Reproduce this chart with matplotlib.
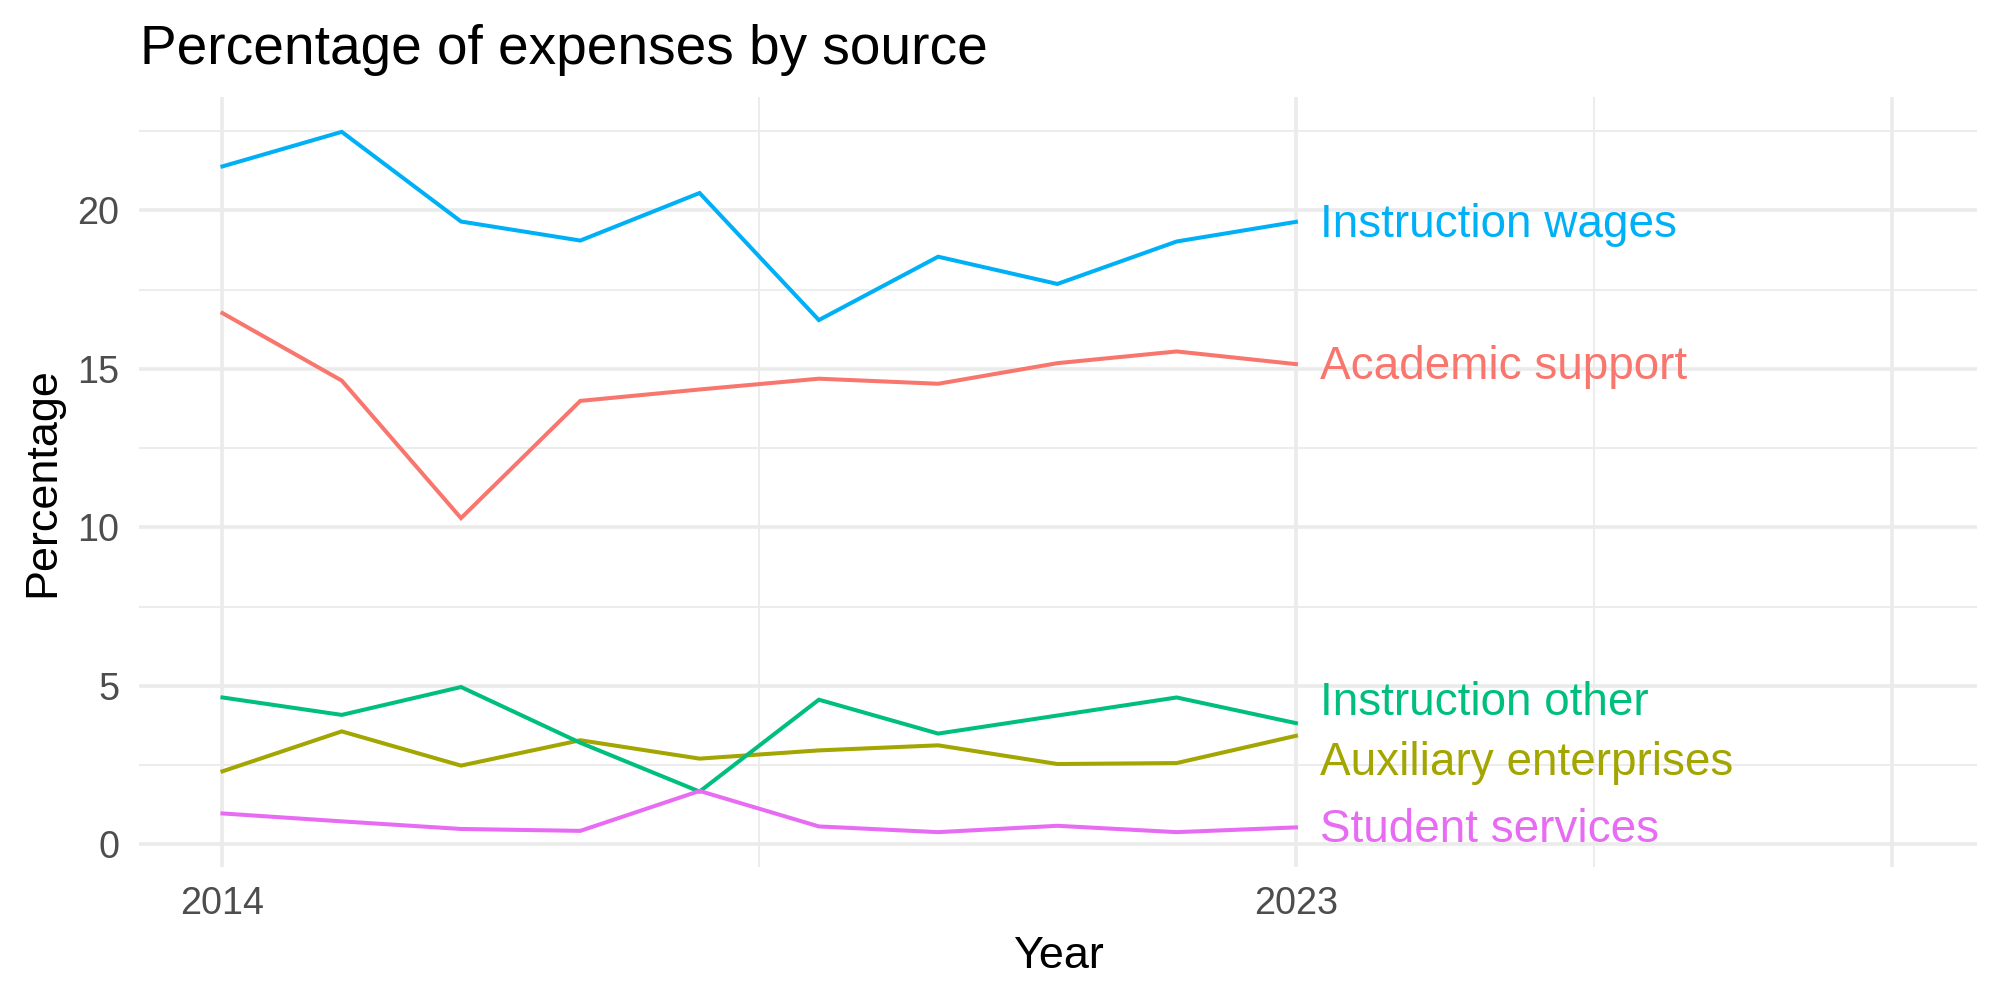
import matplotlib
matplotlib.use("Agg")
import matplotlib.pyplot as plt
from matplotlib.ticker import FixedLocator

plt.rcParams['font.family'] = ['Liberation Sans', 'DejaVu Sans']

years = [2014, 2015, 2016, 2017, 2018, 2019, 2020, 2021, 2022, 2023]
academic_support = [16.76, 14.63, 10.29, 13.99, 14.35, 14.69, 14.53, 15.18, 15.55, 15.15]
auxiliary_enterprises = [2.30, 3.56, 2.48, 3.28, 2.70, 2.96, 3.12, 2.53, 2.56, 3.42]
instruction_other = [4.63, 4.08, 4.96, 3.20, 1.66, 4.56, 3.49, 4.06, 4.63, 3.82]
instruction_wages = [21.39, 22.48, 19.65, 19.05, 20.55, 16.54, 18.54, 17.68, 19.02, 19.64]
student_services = [0.97, 0.72, 0.48, 0.42, 1.68, 0.56, 0.38, 0.58, 0.38, 0.53]

series_names = ["Academic support", "Auxiliary enterprises", "Instruction other",
                "Instruction wages", "Student services"]
series_values = [academic_support, auxiliary_enterprises, instruction_other,
                 instruction_wages, student_services]
colors = ["#F8766D", "#A3A500", "#00BF7D", "#00B0F6", "#E76BF3"]
label_y = [15.05, 2.55, 4.45, 19.55, 0.45]

x_ticks = [2014, 2023]
x_major_grid = [2014, 2023, 2028]
x_minor_grid = [2018.5, 2025.5]
y_ticks = [0, 5, 10, 15, 20]
y_minor = [2.5, 7.5, 12.5, 17.5, 22.5]

fig = plt.figure(figsize=(10, 5), dpi=200)
ax = fig.add_axes([0.0695, 0.133, 0.919, 0.770])

grid_c = "#EBEBEB"
for g in x_major_grid:
    ax.axvline(g, color=grid_c, lw=1.3, zorder=0)
for g in x_minor_grid:
    ax.axvline(g, color=grid_c, lw=0.65, zorder=0)
for g in y_ticks:
    ax.axhline(g, color=grid_c, lw=1.3, zorder=0)
for g in y_minor:
    ax.axhline(g, color=grid_c, lw=0.65, zorder=0)

for name, vals, c, ly in zip(series_names, series_values, colors, label_y):
    ax.plot(years, vals, color=c, lw=1.45, zorder=3, solid_joinstyle='miter')
    ax.text(years[-1] + 0.2, ly, name, color=c, fontsize=16.5,
            va='center', ha='left', zorder=4)

ax.set_xlim(2013.3, 2028.71)
ax.set_ylim(-0.72, 23.58)
ax.xaxis.set_major_locator(FixedLocator(x_ticks))
ax.yaxis.set_major_locator(FixedLocator(y_ticks))
ax.set_xticklabels([str(t) for t in x_ticks])
ax.tick_params(axis='both', length=0, labelsize=13.6, labelcolor="#4D4D4D")
ax.tick_params(axis='x', pad=7)
ax.tick_params(axis='y', pad=7)
for s in ax.spines.values():
    s.set_visible(False)

ax.set_xlabel("Year", fontsize=16.2, labelpad=5)
ax.set_ylabel("Percentage", fontsize=16.2, labelpad=5)
fig.text(140 / 2000, 1 - 64 / 1000, "Percentage of expenses by source",
         fontsize=19.8, ha='left', va='baseline')

fig.savefig("out.png", dpi=200, facecolor='white')
